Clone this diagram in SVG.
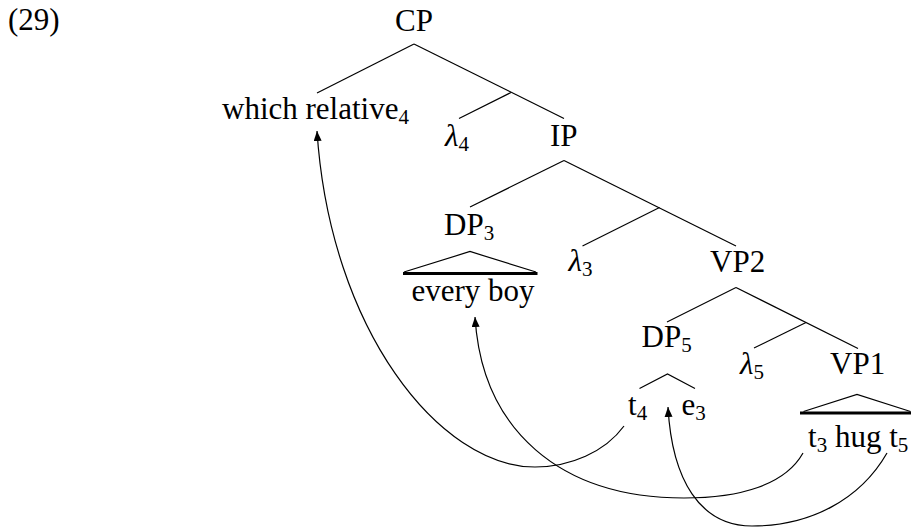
<svg xmlns="http://www.w3.org/2000/svg" width="911" height="527" viewBox="0 0 911 527">
<style>
text{font-family:"Liberation Serif","Times New Roman",serif;font-size:31px;fill:#000}
.sub{font-size:21px;font-style:normal}
.lam{font-style:italic}
.edge{stroke:#000;stroke-width:1.2;fill:none}
.tri{stroke:#000;stroke-width:1.2;fill:none}
.bar{stroke:#000;stroke-width:3}
.mv{stroke:#000;stroke-width:1.2;fill:none;marker-end:url(#ah)}
</style>
<defs>
<marker id="ah" viewBox="0 0 10 8" refX="10" refY="4" markerWidth="10" markerHeight="8" markerUnits="userSpaceOnUse" orient="auto">
<path d="M0,0 L10,4 L0,8 Z" fill="#000"/>
</marker>
</defs>
<rect width="911" height="527" fill="#fff"/>
<text id="exnum" x="8" y="30">(29)</text>
<g id="connectors">
<g id="tree-edges">
<line class="edge" x1="414" y1="44" x2="317" y2="93"/>
<line class="edge" x1="414" y1="44" x2="564" y2="118.5"/>
<line class="edge" x1="511" y1="92.5" x2="459" y2="118.5"/>
<line class="edge" x1="564" y1="160.5" x2="470" y2="207"/>
<line class="edge" x1="564" y1="160.5" x2="736" y2="246"/>
<line class="edge" x1="659.5" y1="207.5" x2="582.5" y2="246"/>
<line class="edge" x1="736" y1="287.5" x2="667" y2="322"/>
<line class="edge" x1="736" y1="287.5" x2="858" y2="348.5"/>
<line class="edge" x1="806" y1="322.5" x2="754" y2="348"/>
</g>
<g id="movement-arrows">
<path class="mv" d="M624,426 C605,452 570,467 535,467 C440,467 330,330 317,131"/>
<path class="mv" d="M803,453 C785,485 740,498 684,498 C560,498 482,430 475,317"/>
<path class="mv" d="M887,453 C860,500 810,526 752,526 C700,526 672,480 668,407"/>
</g>
</g>
<g id="CP"><text x="395" y="31">CP</text></g>
<g id="which-relative"><text x="222" y="119">which relative<tspan class="sub" dy="5">4</tspan></text></g>
<g id="lambda4"><text x="445" y="146"><tspan class="lam">λ</tspan><tspan class="sub" dy="5">4</tspan></text></g>
<g id="IP"><text x="550" y="146">IP</text></g>
<g id="DP3">
<text x="444" y="235">DP<tspan class="sub" dy="5">3</tspan></text>
<polyline class="tri" points="404,272 470,251.5 536,272"/>
<line class="bar" x1="403" y1="273.5" x2="537.5" y2="273.5"/>
<text x="411.5" y="301">every boy</text>
</g>
<g id="lambda3"><text x="568.5" y="271"><tspan class="lam">λ</tspan><tspan class="sub" dy="5">3</tspan></text></g>
<g id="VP2"><text x="710" y="272">VP2</text></g>
<g id="DP5">
<text x="641.5" y="347">DP<tspan class="sub" dy="5">5</tspan></text>
<polyline class="tri" points="639.5,388.5 667.5,374 695,388.5"/>
<text x="628" y="415">t<tspan class="sub" dy="5">4</tspan></text>
<text x="681.5" y="415">e<tspan class="sub" dy="5">3</tspan></text>
</g>
<g id="lambda5"><text x="740" y="374"><tspan class="lam">λ</tspan><tspan class="sub" dy="5">5</tspan></text></g>
<g id="VP1">
<text x="830" y="374">VP1</text>
<polyline class="tri" points="803.5,411.5 857,394.5 910.5,411.5"/>
<line class="bar" x1="800" y1="413" x2="911" y2="413"/>
<text x="808" y="447">t<tspan class="sub" dy="5">3</tspan><tspan dy="-5"> hug t</tspan><tspan class="sub" dy="5">5</tspan></text>
</g>
</svg>
